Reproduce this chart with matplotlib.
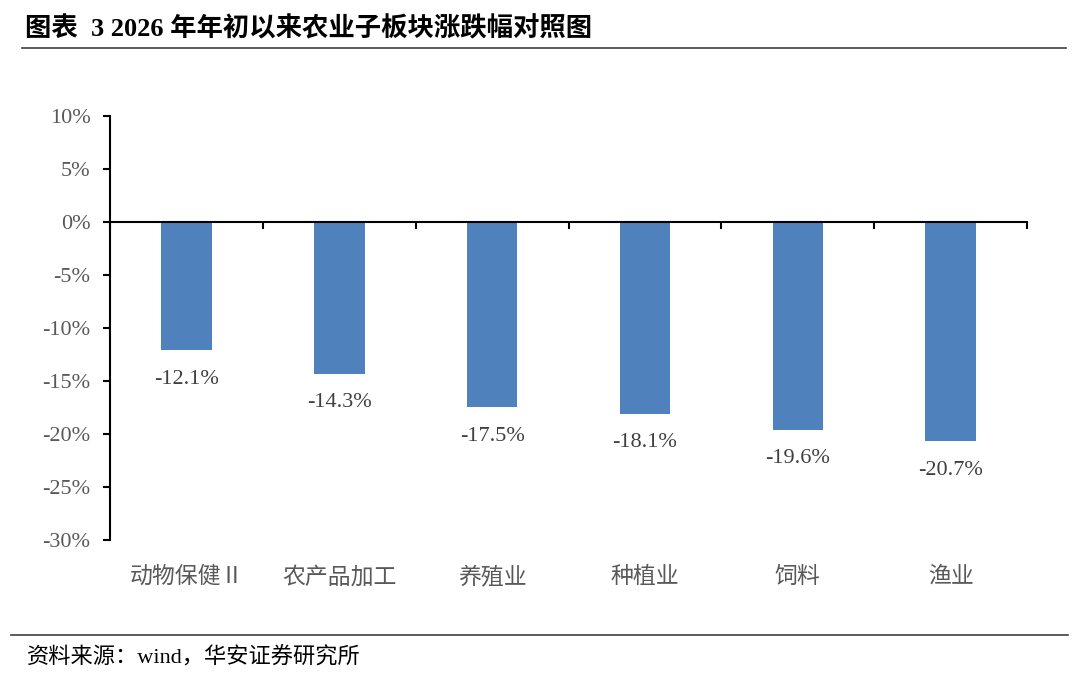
import matplotlib
matplotlib.use('Agg')
import matplotlib.pyplot as plt
from matplotlib.lines import Line2D
from matplotlib.ticker import FuncFormatter

# chart data
categories = ['动物保健Ⅱ', '农产品加工', '养殖业', '种植业', '饲料', '渔业']
changes = [-12.1, -14.3, -17.5, -18.1, -19.6, -20.7]
y_ticks = [10, 5, 0, -5, -10, -15, -20, -25, -30]

serif_cjk = ['Liberation Serif', 'Noto Sans CJK SC']
grey = '#595959'
bar_color = '#4F81BD'

fig = plt.figure(figsize=(10.8, 6.79), dpi=100)
ax = fig.add_axes([0.1019, 0.2047, 0.8491, 0.6245])

x = range(len(categories))
bars = ax.bar(x, changes, width=0.33, color=bar_color, zorder=2)

ax.set_xlim(-0.5, len(categories) - 0.5)
ax.set_ylim(-30, 10)
ax.set_yticks(y_ticks)
ax.yaxis.set_major_formatter(FuncFormatter(lambda v, p: f'{v:.0f}%'))
ax.tick_params(axis='y', direction='out', length=5, width=1.5, pad=9,
               labelsize=16, labelcolor=grey)
for lab in ax.get_yticklabels():
    lab.set_family('Liberation Serif')

# x axis line sits at zero, ticks between categories
ax.spines['bottom'].set_position(('data', 0))
ax.spines['top'].set_visible(False)
ax.spines['right'].set_visible(False)
ax.spines['left'].set_linewidth(1.5)
ax.spines['bottom'].set_linewidth(1.5)
ax.set_xticks([i - 0.5 for i in range(len(categories) + 1)])
ax.set_xticklabels([])
ax.tick_params(axis='x', direction='out', length=5, width=1.5)

# category labels at the bottom of the plot
for i, name in enumerate(categories):
    ax.text(i, -0.088, name, transform=ax.get_xaxis_transform(),
            ha='center', va='center', fontsize=16.5, color=grey, family=serif_cjk)

# value labels under each bar
for rect, v in zip(bars, changes):
    ax.annotate(f'{v:.1f}%', (rect.get_x() + rect.get_width() / 2, v),
                xytext=(0, -14), textcoords='offset points',
                ha='center', va='top', fontsize=16, color='#404040',
                family='Liberation Serif')

# title and source
fig.text(0.023, 0.957, '图表  3 2026 年年初以来农业子板块涨跌幅对照图', ha='left', va='center',
         fontsize=19, fontweight='bold', color='black', family=serif_cjk)
fig.add_artist(Line2D([0.02, 0.987], [0.930, 0.930], color='#404040', lw=1.2))
fig.add_artist(Line2D([0.01, 0.989], [0.065, 0.065], color='#404040', lw=1.2))
fig.text(0.025, 0.031, '资料来源：wind，华安证券研究所', ha='left', va='center',
         fontsize=16, color='black', family=serif_cjk)

plt.savefig('out.png', dpi=100)
